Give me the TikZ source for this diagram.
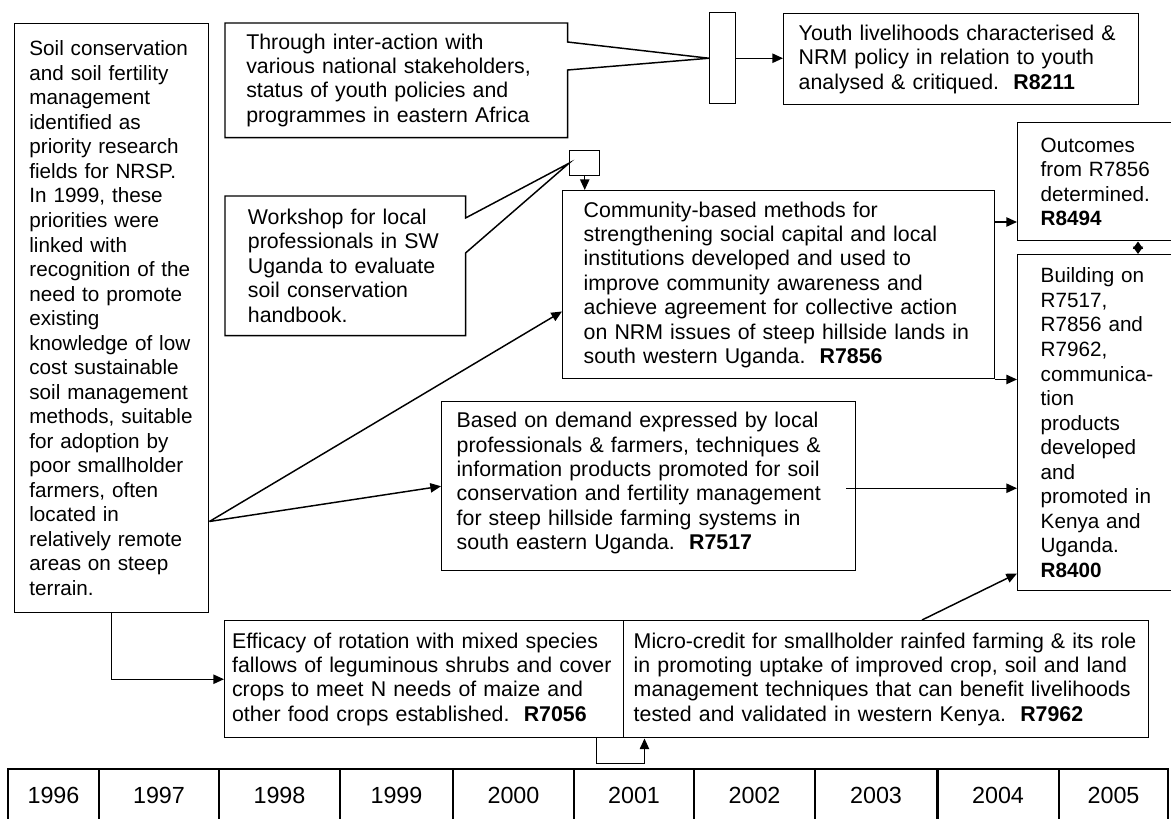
\documentclass[tikz,border=0pt]{standalone}
\usepackage{fontspec}
\setmainfont{Liberation Sans}
\usetikzlibrary{arrows.meta,calc}
\newcommand{\botpad}[1]{\rule[-#1]{0pt}{#1}}

\begin{document}
\begin{tikzpicture}[x=0.75pt,y=-0.75pt,
  every node/.style={inner ysep=0pt},
  txt/.style={font=\fontsize{16}{18.3}\selectfont},
  smalltxt/.style={font=\fontsize{15.5}{18.4}\selectfont},
  projbox/.style={draw,line width=1.1pt,anchor=north west,align=left,txt},
  callout/.style={anchor=north west,align=left,txt},
  hub/.style={draw,line width=1.1pt,anchor=north west,inner sep=0pt},
  link/.style={line width=1.1pt},
  arr/.style={link,-{Triangle[length=8pt,width=7pt]}},
  yearcell/.style={draw,line width=1.1pt,font=\fontsize{17.5}{20}\selectfont,inner sep=0pt,minimum height=39.75pt}]

\useasboundingbox (0,0) rectangle (1171,818);

\node[projbox,smalltxt,minimum width=145.5pt,minimum height=441.75pt,inner xsep=11pt,text width=123.5pt] (soil) at (14,23)
{Soil conservation\\and soil fertility\\management\\identified as\\priority research\\fields for NRSP.\\In 1999, these\\priorities were\\linked with\\recognition of the\\need to promote\\existing\\knowledge of low\\cost sustainable\\soil management\\methods, suitable\\for adoption by\\poor smallholder\\farmers, often\\located in\\relatively remote\\areas on steep\\terrain.};

\node[callout,minimum width=256.5pt,minimum height=85.5pt,inner xsep=15.75pt,text width=225pt] (thru) at (225,23)
{Through inter-action with\\various national stakeholders,\\status of youth policies and\\programmes in eastern Africa};
\node[hub,minimum width=19.5pt,minimum height=68.25pt] (hub1) at (709,12) {};
\node[projbox,minimum width=266.25pt,minimum height=68.25pt,inner xsep=11.25pt,text width=243.75pt] (youth) at (783,13)
{Youth livelihoods characterised \&\\NRM policy in relation to youth\\analysed \& critiqued.\ \ \textbf{R8211}};

\node[callout,minimum width=180pt,minimum height=104.25pt,inner xsep=17pt,text width=146pt] (shop) at (225,196)
{Workshop for local\\professionals in SW\\Uganda to evaluate\\soil conservation\\handbook.};
\node[hub,minimum width=22.5pt,minimum height=18.75pt] (hub2) at (569,150) {};

\node[projbox,minimum width=324pt,minimum height=141pt,inner xsep=15.75pt,text width=292.5pt] (comm) at (562,190)
{Community-based methods for\\strengthening social capital and local\\institutions developed and used to\\improve community awareness and\\achieve agreement for collective action\\on NRM issues of steep hillside lands in\\south western Uganda.\ \ \textbf{R7856}};

\node[projbox,smalltxt,minimum width=129.75pt,minimum height=88.5pt,inner xsep=17.25pt,text width=95.25pt] (outc) at (1017,122)
{Outcomes\\from R7856\\determined.\\\textbf{R8494}};
\node[projbox,smalltxt,minimum width=129.75pt,minimum height=252pt,inner xsep=17.25pt,text width=95.25pt] (bldg) at (1017,254)
{Building on\\R7517,\\R7856 and\\R7962,\\communica-\\tion\\products\\developed\\and\\promoted in\\Kenya and\\Uganda.\\\textbf{R8400}};

\node[projbox,minimum width=310.5pt,minimum height=126.75pt,inner xsep=11.25pt,text width=288pt] (promo) at (441,401)
{Based on demand expressed by local\\professionals \& farmers, techniques \&\\information products promoted for soil\\conservation and fertility management\\for steep hillside farming systems in\\south eastern Uganda.\ \ \textbf{R7517}\botpad{8pt}};

\node[projbox,minimum width=299.25pt,minimum height=87.75pt,inner xsep=5.5pt,text width=288.25pt] (fallow) at (224,620)
{Efficacy of rotation with mixed species\\fallows of leguminous shrubs and cover\\crops to meet N needs of maize and\\other food crops established.\ \ \textbf{R7056}};
\node[projbox,minimum width=393.75pt,minimum height=87.75pt,inner xsep=7.5pt,text width=378.75pt] (credit) at (623,620)
{Micro-credit for smallholder rainfed farming \& its role\\in promoting uptake of improved crop, soil and land\\management techniques that can benefit livelihoods\\tested and validated in western Kenya.\ \ \textbf{R7962}};

\foreach \l/\r/\yr in {8/99/1996,99/219/1997,219/340/1998,340/453/1999,453/574/2000,574/694/2001,694/815/2002,815/937/2003,937/1059/2004,1059/1168/2005}
  \node[yearcell,minimum width={(\r-\l)*0.75pt}] (y\yr) at ({(\l+\r)/2},795.5) {\yr};
\draw[line width=1.9pt] (y2003.north east) -- (y2003.south east);

\draw[link] (thru.north west) -- (thru.north east) -- ($(thru.north east)+(0,19)$) -- (hub1.west) -- ($(thru.north east)+(0,47)$) -- (thru.south east) -- (thru.south west) -- cycle;
\draw[link] (shop.north west) -- (shop.north east) -- ($(shop.north east)+(0,22)$) -- (hub2.west) -- ($(shop.north east)+(0,57)$) -- (shop.south east) -- (shop.south west) -- cycle;
\draw[arr] (hub1.east) -- (hub1.east -| youth.west);
\draw[arr] (hub2.south) -- (hub2.south |- comm.north);

\coordinate (fork) at ($(soil.south east)+(0,-92)$);
\draw[arr] (fork) -- ($(comm.south west)+(0,-68)$);
\draw[arr] (fork) -- (promo.west);

\coordinate (c1) at ($(comm.north east)+(0,32)$);
\draw[arr] (c1) -- (c1 -| outc.west);
\draw[arr] (comm.south east) -- (comm.south east -| bldg.west);
\coordinate (p1) at ($(promo.east)+(-10,2)$);
\draw[arr] (p1) -- (p1 -| bldg.west);
\draw[link,{Triangle[length=5.5pt,width=7.5pt]}-{Triangle[length=5.5pt,width=7.5pt]}] ($(outc.south west)+(121,0)$) -- ($(bldg.north west)+(121,0)$);

\draw[arr] (soil.south) |- (fallow.west);
\draw[arr] ($(fallow.south east)+(-28,0)$) -- ++(0,25) -- ++(48,0) -- ++(0,-25);
\draw[arr] ($(credit.north west)+(299,0)$) -- ($(bldg.south west)+(0,-18)$);
\end{tikzpicture}
\end{document}
